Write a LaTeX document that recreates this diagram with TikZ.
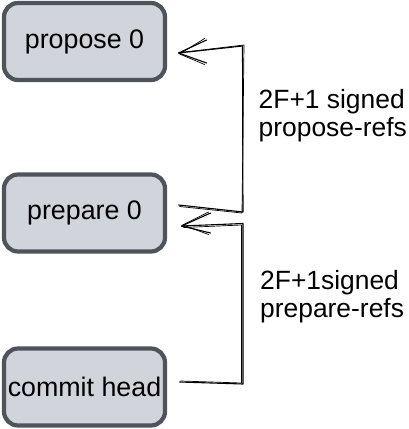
\documentclass[tikz,border=0pt]{standalone}
\usepackage{fontspec}
\setmainfont{Liberation Sans}
\usetikzlibrary{calc}
\definecolor{boxfill}{HTML}{D1D5DB}
\definecolor{boxedge}{HTML}{4F545B}
\tikzset{
  stage/.style={draw=boxedge, fill=boxfill, line width=4.2pt, rounded corners=14pt,
    minimum width=161pt, minimum height=77pt, inner sep=0pt,
    font=\fontsize{26.8}{28}\selectfont},
  pen/.style={draw=black, line width=1.1pt, line cap=round, line join=round},
  lbl/.style={anchor=base west, inner sep=0pt, font=\fontsize{26.4}{28}\selectfont}
}
\begin{document}
\begin{tikzpicture}[x=1pt, y=-1pt]
\useasboundingbox (0,0) rectangle (409,429);

% the three stages
\node[stage] (prop) at (84.5,41.5) {propose 0};
\node[stage] (prep) at (84.5,213) {prepare 0};
\node[stage] (comm) at (84.5,387) {commit head};

% bends of the two reference lines
\coordinate (p1) at ($(prop.east)+(11.5,11.5)$);
\coordinate (r1) at ($(prep.east)+(11.5,-8)$);
\coordinate (r2) at ($(prep.east)+(14.5,13)$);
\coordinate (c1) at ($(comm.east)+(12.5,-5)$);
\coordinate (k1) at (242.5,46);
\coordinate (k2) at (243,212);
\coordinate (k3) at (243,223.5);
\coordinate (k4) at (243,384);

% prepare 0 -> propose 0 (hand-drawn, double stroke)
\draw[pen] (r1) -- (k2) -- (k1) -- (p1);
\draw[pen, line width=0.7pt] ($(r1)+(1,1.5)$) -- ($(k2)+(-1,1)$) -- ($(k1)+(1.5,-1)$) -- ($(p1)+(2,-0.5)$);
\draw[pen] ($(p1)+(28,-13)$) -- (p1) -- ($(p1)+(28,10)$);
\draw[pen, line width=0.7pt] ($(p1)+(26,-14.5)$) -- ($(p1)+(1,1)$) -- ($(p1)+(26,11.5)$);

% commit head -> prepare 0 (hand-drawn, double stroke)
\draw[pen] (c1) -- (k4) -- (k3) -- (r2);
\draw[pen, line width=0.7pt] ($(c1)+(1,-1)$) -- ($(k4)+(-1.5,-1)$) -- ($(k3)+(-1.5,1.5)$) -- ($(r2)+(2,1.5)$);
\draw[pen] ($(r2)+(29,-13)$) -- (r2) -- ($(r2)+(29,7)$);
\draw[pen, line width=0.7pt] ($(r2)+(27,-14)$) -- ($(r2)+(1,-1)$) -- ($(r2)+(27,8.5)$);

% labels
\node[lbl] (lab1a) at (258.5,108) {2F+1 signed};
\node[lbl] (lab1b) at (258.5,136) {propose-refs};
\node[lbl] (lab2a) at (260,289) {2F+1signed};
\node[lbl] (lab2b) at (260,317) {prepare-refs};
\end{tikzpicture}
\end{document}
